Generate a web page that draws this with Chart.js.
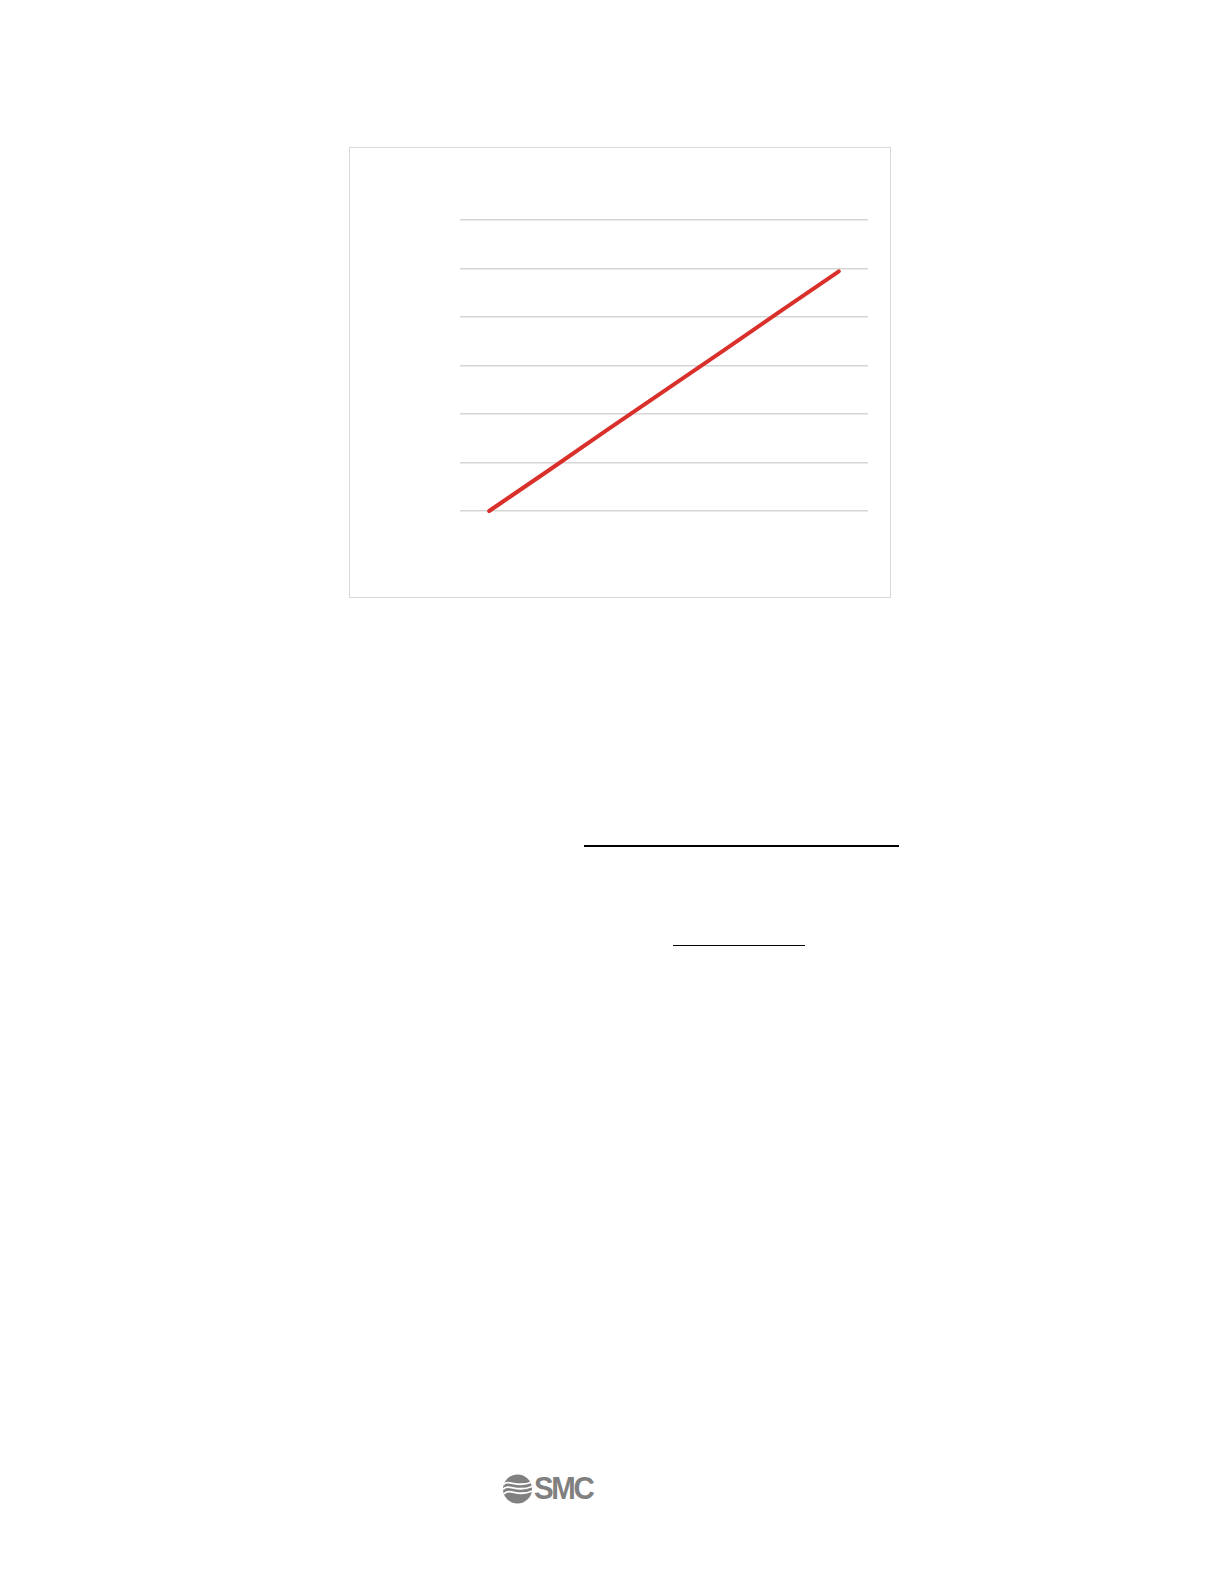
<!DOCTYPE html>
<html lang="en">
  <head>
    <meta charset="UTF-8" />
    <title>Chart</title>
    <script src="https://cdn.jsdelivr.net/npm/chart.js"></script>
    <style>
      * {
        margin: 0;
        padding: 0;
        box-sizing: border-box;
      }

      body {
        width: 1224px;
        height: 1584px;
        background-color: #ffffff;
        position: relative;
        font-family: "Liberation Sans", Arial, sans-serif;
      }

      .chart-box {
        position: absolute;
        left: 349px;
        top: 147px;
        width: 542px;
        height: 451px;
        border: 1px solid #d9d9d9;
      }

      .rule {
        position: absolute;
        background-color: #000000;
      }

      .rule-long {
        left: 584px;
        top: 845px;
        width: 315px;
        height: 2px;
      }

      .rule-short {
        left: 673px;
        top: 945px;
        width: 132px;
        height: 1px;
      }

      /* logo */
      .logo {
        position: absolute;
        left: 502px;
        top: 1474px;
        height: 30px;
        display: flex;
        align-items: center;
      }

      .logo-text {
        color: #808080;
        font-weight: bold;
        font-size: 31px;
        letter-spacing: -2.5px;
        margin-left: 1px;
        line-height: 30px;
        transform: scaleX(0.95);
        transform-origin: left center;
      }
    </style>
  </head>
  <body>
    <div class="chart-box">
      <canvas id="lineChart"></canvas>
    </div>

    <div class="rule rule-long"></div>
    <div class="rule rule-short"></div>

    <div class="logo">
      <svg width="31" height="30" viewBox="0 0 31 30">
        <circle cx="15.5" cy="15" r="14.5" fill="#808080" />
        <path d="M1 11 C 7 4, 13 15, 30 8" stroke="#fff" stroke-width="1.8" fill="none" />
        <path d="M1 15.5 C 7 8.5, 14 19.5, 30 12.5" stroke="#fff" stroke-width="1.8" fill="none" />
        <path d="M2 20 C 8 13, 15 24, 30 17" stroke="#fff" stroke-width="1.8" fill="none" />
      </svg>
      <span class="logo-text">SMC</span>
    </div>

    <script>
      // categories (labels are not shown in the picture)
      var categories = ["1", "2", "3", "4", "5", "6", "7"];
      // values
      var seriesValues = [0, 0.82, 1.65, 2.47, 3.29, 4.12, 4.94];
      // y axis range
      var yMin = 0;
      var yMax = 6;
      var yStep = 1;

      var ctx = document.getElementById("lineChart").getContext("2d");
      new Chart(ctx, {
        type: "line",
        data: {
          labels: categories,
          datasets: [
            {
              data: seriesValues,
              borderColor: "#d9302b",
              borderWidth: 4,
              borderCapStyle: "round",
              pointRadius: 0,
              tension: 0,
              fill: false,
              clip: 4,
            },
          ],
        },
        options: {
          responsive: true,
          maintainAspectRatio: false,
          animation: false,
          events: [],
          layout: {
            padding: { left: 110, right: 22, top: 72, bottom: 86 },
          },
          plugins: {
            legend: { display: false },
            tooltip: { enabled: false },
          },
          scales: {
            x: {
              display: false,
              offset: true,
            },
            y: {
              min: yMin,
              max: yMax,
              ticks: { display: false, stepSize: yStep },
              grid: { color: "#d6d6d6", lineWidth: 1.4, drawTicks: false },
              border: { display: false },
            },
          },
        },
      });
    </script>
  </body>
</html>
